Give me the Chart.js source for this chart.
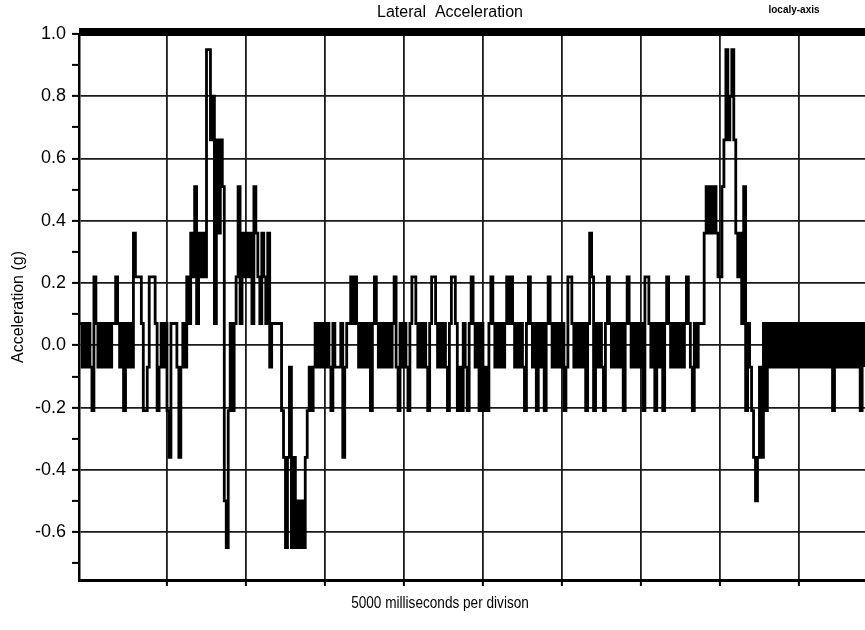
<!DOCTYPE html>
<html>
<head>
<meta charset="utf-8">
<title>Lateral Acceleration</title>
<script src="https://cdn.jsdelivr.net/npm/chart.js@4.4.1/dist/chart.umd.min.js"></script>
<style>
  html, body { margin: 0; padding: 0; background: #fff; }
  canvas { display: block; }
</style>
</head>
<body>
<canvas id="accelChart" width="865" height="630"></canvas>
<script>
// Lateral acceleration trace (g), one reading every 0.125 s
const sampleStartSec = 4.5;
const sampleStepSec = 0.125;
const accelG = [
  0.07,-0.07,0.07,-0.07,0.07,-0.07,-0.21,0.22,0.07,-0.07,   // 0
  0.07,-0.07,0.07,-0.07,0.07,-0.07,0.07,0.07,0.22,0.07,
  -0.07,0.07,-0.21,0.07,-0.07,0.07,-0.07,0.36,0.22,0.22,
  0.22,0.07,-0.21,-0.21,-0.07,0.22,0.22,0.22,0.07,-0.21,
  -0.07,0.07,-0.07,0.07,-0.21,-0.36,0.07,0.07,0.07,-0.07,
  -0.36,-0.07,0.07,-0.07,0.22,0.07,0.36,0.22,0.51,0.07,    // 50
  0.36,0.22,0.36,0.22,0.95,0.95,0.66,0.80,0.07,0.66,
  0.36,0.66,0.51,-0.5,-0.65,-0.21,0.07,-0.21,0.07,0.22,
  0.51,0.07,0.36,0.22,0.36,0.22,0.36,0.07,0.51,0.36,
  0.22,0.07,0.36,0.22,0.07,0.36,-0.07,0.07,0.07,0.07,
  0.07,0.07,-0.21,-0.36,-0.65,-0.36,-0.07,-0.65,-0.36,-0.65,   // 100
  -0.5,-0.65,-0.5,-0.65,-0.36,-0.21,-0.07,-0.21,-0.07,0.07,
  -0.07,0.07,-0.07,0.07,-0.07,0.07,-0.07,-0.21,0.07,-0.07,
  -0.07,-0.07,0.07,-0.36,-0.07,0.07,0.07,0.22,0.07,0.22,
  0.07,-0.07,0.07,-0.07,0.07,-0.07,0.07,-0.21,0.07,0.22,
  0.07,-0.07,0.07,-0.07,0.07,-0.07,0.07,-0.07,0.07,0.22,    // 150
  -0.07,-0.21,0.07,-0.07,0.07,-0.07,-0.21,0.07,0.22,0.22,
  0.07,-0.07,0.07,-0.07,0.07,-0.07,-0.21,0.07,0.22,0.22,
  0.07,-0.07,0.07,-0.07,0.07,-0.07,-0.21,0.07,0.22,0.22,
  0.07,-0.21,-0.07,-0.21,0.07,-0.07,-0.21,0.07,0.22,0.07,
  -0.07,0.07,-0.21,0.07,-0.21,-0.07,-0.21,0.07,0.22,0.07,   // 200
  -0.07,0.07,-0.07,0.07,-0.07,0.07,0.22,0.07,0.22,0.07,
  -0.07,0.07,-0.07,0.07,-0.07,-0.21,0.07,0.22,0.07,-0.07,
  0.07,-0.21,0.07,-0.07,0.07,-0.21,0.07,0.22,0.07,-0.07,
  0.07,-0.07,0.07,-0.07,0.07,-0.21,-0.07,0.22,0.22,0.07,
  -0.07,0.07,-0.07,0.07,-0.07,0.07,-0.21,0.07,0.36,0.22,   // 250
  -0.21,0.07,-0.07,0.07,-0.07,-0.21,0.07,0.22,0.07,-0.07,
  0.07,-0.07,0.07,-0.07,0.07,-0.21,0.07,0.22,0.07,-0.07,
  0.07,-0.07,0.07,-0.07,0.07,-0.21,0.22,0.22,0.07,-0.07,
  0.07,-0.21,0.07,-0.07,0.07,-0.21,0.07,0.22,0.07,-0.07,
  0.07,-0.07,0.07,-0.07,0.07,-0.07,0.07,0.22,0.07,-0.07,   // 300
  -0.21,0.07,-0.07,0.07,0.07,0.07,0.36,0.51,0.36,0.51,
  0.36,0.51,0.36,0.22,0.22,0.51,0.66,0.95,0.66,0.80,
  0.95,0.66,0.36,0.22,0.36,0.07,0.51,-0.21,0.07,-0.07,
  -0.21,-0.36,-0.5,-0.36,-0.07,-0.36,0.07,-0.21,0.07,-0.07,
  0.07,-0.07,0.07,-0.07,0.07,-0.07,0.07,-0.07,0.07,-0.07,   // 350
  0.07,-0.07,0.07,-0.07,0.07,-0.07,0.07,-0.07,0.07,-0.07,
  0.07,-0.07,0.07,-0.07,0.07,-0.07,0.07,-0.07,0.07,-0.07,
  0.07,-0.21,0.07,-0.07,0.07,-0.07,0.07,-0.07,0.07,-0.07,
  0.07,-0.07,0.07,-0.07,0.07,-0.21,0.07,-0.07
];

// 5000 ms per division
const timeGridSec = [10, 15, 20, 25, 30, 35, 40, 45, 50];
const timeRangeSec = [4.43, 54.18];
const accelRangeG = [-0.754, 1.0];
const accelTickStep = 0.1;

const FONT = '"Liberation Sans", Arial, Helvetica, sans-serif';

function isMajor(v) {
  return Math.abs(Math.round(v * 10)) % 2 === 0;
}

// title, corner note, x label and the heavy top frame line
const pageText = {
  id: 'pageText',
  afterDraw(chart) {
    const { ctx, chartArea } = chart;
    ctx.save();
    ctx.fillStyle = '#000';
    ctx.fillRect(chartArea.left, chartArea.top - 6, chartArea.right - chartArea.left, 8);
    ctx.textAlign = 'center';
    ctx.textBaseline = 'middle';
    ctx.font = '16px ' + FONT;
    ctx.fillText('Lateral  Acceleration', 450, 13);
    // the x label is set in a narrower face in the original
    ctx.save();
    ctx.translate(440, 604);
    ctx.scale(0.85, 1);
    ctx.fillText('5000 milliseconds per divison', 0, 0);
    ctx.restore();
    ctx.font = 'bold 10px ' + FONT;
    ctx.fillText('localy-axis', 794, 10);
    ctx.restore();
  }
};

const ctx = document.getElementById('accelChart').getContext('2d');
new Chart(ctx, {
  type: 'line',
  data: {
    datasets: [{
      label: 'Lateral Acceleration',
      data: accelG.map((g, i) => ({ x: sampleStartSec + i * sampleStepSec, y: g })),
      borderColor: '#000',
      borderWidth: 2.8,
      stepped: true,
      pointRadius: 0,
      fill: false
    }]
  },
  options: {
    responsive: false,
    animation: false,
    layout: { padding: { top: 34, left: 0, right: 0, bottom: 0 } },
    plugins: {
      legend: { display: false },
      tooltip: { enabled: false }
    },
    scales: {
      x: {
        type: 'linear',
        min: timeRangeSec[0],
        max: timeRangeSec[1],
        afterFit(scale) { scale.height = 50; },
        afterBuildTicks(scale) { scale.ticks = timeGridSec.map(v => ({ value: v })); },
        border: { color: '#000', width: 3 },
        grid: { color: '#1a1a1a', lineWidth: 1.8, tickColor: '#000', tickLength: 6, tickWidth: 2 },
        ticks: { autoSkip: false, callback: () => '' }
      },
      y: {
        min: accelRangeG[0],
        max: accelRangeG[1],
        afterFit(scale) { scale.width = 79; },
        border: { color: '#000', width: 2.5 },
        grid: {
          color: c => isMajor(c.tick.value) ? '#1a1a1a' : 'rgba(0,0,0,0)',
          lineWidth: 1.8,
          tickColor: '#000',
          tickLength: 7,
          tickWidth: 2
        },
        ticks: {
          stepSize: accelTickStep,
          includeBounds: false,
          autoSkip: false,
          padding: 6,
          color: '#000',
          font: { size: 18, family: FONT },
          callback: v => isMajor(v) ? (Math.abs(v) < 1e-9 ? '0.0' : v.toFixed(1)) : ''
        },
        title: {
          display: true,
          text: 'Acceleration (g)',
          color: '#000',
          font: { size: 16, family: FONT },
          padding: { top: 9, bottom: 0 }
        }
      }
    }
  },
  plugins: [pageText]
});
</script>
</body>
</html>
